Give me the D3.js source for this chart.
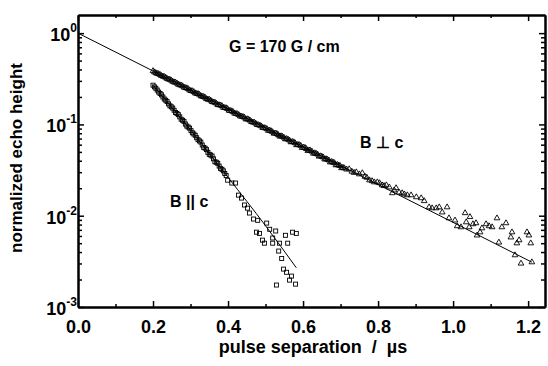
<!DOCTYPE html>
<html>
<head>
<meta charset="utf-8">
<script src="https://cdn.jsdelivr.net/npm/d3@7"></script>
<style>
  body { margin: 0; background: #fff; }
  text { font-family: Arial, "Liberation Sans", sans-serif; font-weight: bold; fill: #000; }
</style>
</head>
<body>
<svg id="chart" width="548" height="366"></svg>
<script>
// x ticks (µs) and y decades
const xMajor = [0, 0.2, 0.4, 0.6, 0.8, 1.0, 1.2];
const xMinor = [0.1, 0.3, 0.5, 0.7, 0.9, 1.1];
const yDecades = [-3, -2, -1, 0];

// B ⊥ c echo heights [pulse separation, height]
const perpPoints = [
  [0.200,0.385],[0.20375,0.374],[0.2075,0.366],[0.21125,0.360],[0.215,0.357],[0.21875,0.350],
  [0.2225,0.341],[0.22625,0.336],[0.230,0.333],[0.23375,0.326],[0.2375,0.317],[0.24125,0.312],
  [0.245,0.310],[0.24875,0.303],[0.2525,0.295],[0.25625,0.290],[0.260,0.288],[0.26375,0.282],
  [0.2675,0.274],[0.27125,0.270],[0.275,0.268],[0.27875,0.263],[0.2825,0.255],[0.28625,0.251],
  [0.290,0.250],[0.29375,0.245],[0.2975,0.237],[0.30125,0.233],[0.305,0.232],[0.30875,0.227],
  [0.3125,0.220],[0.31625,0.217],[0.320,0.216],[0.32375,0.212],[0.3275,0.205],[0.33125,0.202],
  [0.335,0.201],[0.33875,0.197],[0.3425,0.190],[0.34625,0.188],[0.350,0.187],[0.35375,0.183],
  [0.3575,0.177],[0.36125,0.175],[0.365,0.174],[0.36875,0.170],[0.3725,0.164],[0.37625,0.163],
  [0.380,0.162],[0.38375,0.159],[0.3875,0.153],[0.39125,0.152],[0.395,0.151],[0.39875,0.148],
  [0.4025,0.142],[0.40625,0.141],[0.410,0.140],[0.41375,0.137],[0.4175,0.132],[0.42125,0.131],
  [0.425,0.130],[0.42875,0.127],[0.4325,0.123],[0.43625,0.122],[0.440,0.121],[0.44375,0.119],
  [0.4475,0.114],[0.45125,0.1145],[0.455,0.113],[0.45875,0.1105],[0.4625,0.1065],[0.46625,0.1055],
  [0.470,0.1050],[0.47375,0.1025],[0.4775,0.0990],[0.48125,0.0985],[0.485,0.0975],[0.48875,0.0955],
  [0.4925,0.0920],[0.49625,0.0915],[0.500,0.0910],[0.50375,0.0890],[0.5075,0.0855],[0.51125,0.0860],
  [0.515,0.0845],[0.51875,0.0825],[0.5225,0.0795],[0.52625,0.0800],[0.530,0.0790],[0.53375,0.0770],
  [0.5375,0.0740],[0.54125,0.0745],[0.545,0.0735],[0.54875,0.0720],[0.5525,0.0690],[0.55625,0.0695],
  [0.560,0.0685],[0.56375,0.0670],[0.5675,0.0640],[0.57125,0.0645],[0.575,0.0640],[0.57875,0.0625],
  [0.5825,0.0595],[0.58625,0.0600],[0.590,0.0595],[0.59375,0.0585],[0.5975,0.0555],[0.60125,0.0560],
  [0.605,0.0555],[0.60875,0.0540],[0.6125,0.0515],[0.61625,0.0522],[0.620,0.0515],[0.62375,0.0505],
  [0.6275,0.0480],[0.63125,0.0485],[0.635,0.0478],[0.63875,0.0470],[0.6425,0.0446],[0.64625,0.0450],
  [0.650,0.0445],[0.65375,0.0437],[0.6575,0.0415],[0.66125,0.0418],[0.665,0.0412],[0.66875,0.0405],
  [0.6725,0.0385],[0.67625,0.0390],[0.680,0.0384],[0.68375,0.0378],[0.6875,0.0358],[0.69125,0.0362],
  [0.695,0.0357],[0.69875,0.0352],[0.7025,0.0333],[0.70625,0.0337],[0.710,0.0332],
  [0.716,0.0322],[0.723,0.0324],[0.730,0.0305],[0.736,0.0296],[0.742,0.0300],[0.750,0.0285],
  [0.758,0.0293],[0.765,0.0268],[0.770,0.0262],[0.777,0.0245],[0.784,0.0240],[0.790,0.0233],
  [0.798,0.0233],[0.804,0.0228],[0.811,0.0216],[0.816,0.0212],[0.822,0.0216],[0.830,0.0205],
  [0.838,0.0177],[0.843,0.0190],[0.848,0.0201],[0.856,0.0180],[0.864,0.0177],[0.870,0.0172],
  [0.878,0.0168],[0.888,0.0168],[0.902,0.0160],[0.915,0.0156],[0.923,0.0145],[0.936,0.0124],
  [0.944,0.0121],[0.955,0.0121],[0.963,0.0124],[0.971,0.0109],[0.984,0.0124],[0.989,0.0094],
  [1.005,0.0089],[1.011,0.0077],[1.021,0.0075],[1.032,0.0107],[1.035,0.0085],[1.043,0.0075],
  [1.045,0.0097],[1.053,0.0081],[1.061,0.0083],[1.064,0.0061],[1.072,0.0066],[1.077,0.0073],
  [1.088,0.0081],[1.096,0.0077],[1.104,0.0075],[1.117,0.0094],[1.122,0.0051],[1.130,0.0075],
  [1.141,0.0083],[1.154,0.0058],[1.157,0.0066],[1.165,0.0037],[1.170,0.0050],[1.176,0.0054],
  [1.181,0.0030],[1.197,0.0066],[1.202,0.0061],[1.207,0.0050],[1.210,0.0031]
];

// B || c echo heights
const paraPoints = [
  [0.200,0.269],[0.20375,0.258],[0.2075,0.249],[0.21125,0.238],[0.215,0.226],[0.21875,0.218],
  [0.2225,0.211],[0.22625,0.200],[0.230,0.190],[0.23375,0.184],[0.2375,0.178],[0.24125,0.168],
  [0.245,0.160],[0.24875,0.156],[0.2525,0.151],[0.25625,0.143],[0.260,0.135],[0.26375,0.132],
  [0.2675,0.128],[0.27125,0.121],[0.275,0.114],[0.27875,0.111],[0.2825,0.108],[0.28625,0.101],
  [0.290,0.096],[0.29375,0.0935],[0.2975,0.091],[0.30125,0.0855],[0.305,0.081],[0.30875,0.0785],
  [0.3125,0.076],[0.31625,0.0715],[0.320,0.068],[0.32375,0.066],[0.3275,0.064],[0.33125,0.0595],
  [0.335,0.056],[0.33875,0.055],[0.3425,0.053],[0.34625,0.0495],[0.350,0.047],[0.35375,0.0462],
  [0.3575,0.045],[0.36125,0.042],[0.365,0.039],[0.36875,0.0385],[0.3725,0.0375],[0.37625,0.035],
  [0.380,0.033],[0.38375,0.0322],[0.3875,0.031],[0.39125,0.029],[0.395,0.0275],
  [0.399,0.0245],[0.410,0.0228],[0.420,0.0228],[0.428,0.0168],[0.436,0.0156],[0.444,0.0131],
  [0.452,0.0121],[0.457,0.0107],[0.468,0.0092],[0.479,0.0089],[0.476,0.0066],[0.484,0.0064],
  [0.492,0.0054],[0.497,0.0050],[0.503,0.0083],[0.511,0.0071],[0.519,0.0057],[0.519,0.0050],
  [0.527,0.0068],[0.529,0.00174],[0.535,0.0041],[0.537,0.0050],[0.543,0.0034],[0.548,0.0026],
  [0.553,0.0061],[0.556,0.0024],[0.559,0.0050],[0.564,0.00197],[0.569,0.00218],[0.572,0.0066],
  [0.580,0.00178],[0.582,0.0064]
];

// fitted curves
const perpFit = [[0, 1.0], [1.21, 0.0031]];
const paraFit = [[0.2, 0.269], [0.3, 0.087], [0.4, 0.0263], [0.5, 0.00776], [0.582, 0.00269]];

const width = 548, height = 366;
const margin = { left: 78, right: 3, top: 15, bottom: 59 };

const svg = d3.select("#chart");

const x = d3.scaleLinear()
    .domain([0, 1.245])
    .range([margin.left, width - margin.right]);

const y = d3.scaleLog()
    .domain([1e-3, 1.58])
    .range([height - margin.bottom, margin.top]);

const yMajor = yDecades.map(k => Math.pow(10, k));
const yMinor = [];
yDecades.slice(0, -1).forEach(k => {
    for (let m = 2; m <= 9; m++) yMinor.push(m * Math.pow(10, k));
});

// axes, ticks pointing inward
function styleAxis(g) {
    g.select(".domain").attr("stroke-width", 2);
    g.selectAll(".tick line").attr("stroke-width", 1.5);
}

svg.append("g")
    .attr("transform", `translate(0,${height - margin.bottom})`)
    .call(d3.axisBottom(x).tickValues(xMajor).tickSize(-6).tickSizeOuter(0)
        .tickPadding(13).tickFormat(d3.format(".1f")))
    .call(styleAxis)
    .call(g => g.selectAll("text").style("font-size", "18px"));

svg.append("g")
    .attr("transform", `translate(0,${height - margin.bottom})`)
    .call(d3.axisBottom(x).tickValues(xMinor).tickSize(-3).tickSizeOuter(0).tickFormat(""))
    .call(styleAxis);

svg.append("g")
    .attr("transform", `translate(0,${margin.top})`)
    .call(d3.axisTop(x).tickValues(xMajor).tickSize(-6).tickSizeOuter(0).tickFormat(""))
    .call(styleAxis);

svg.append("g")
    .attr("transform", `translate(0,${margin.top})`)
    .call(d3.axisTop(x).tickValues(xMinor).tickSize(-3).tickSizeOuter(0).tickFormat(""))
    .call(styleAxis);

svg.append("g")
    .attr("transform", `translate(${margin.left},0)`)
    .call(d3.axisLeft(y).tickValues(yMajor).tickSize(-6).tickSizeOuter(0).tickFormat(""))
    .call(styleAxis);

svg.append("g")
    .attr("transform", `translate(${margin.left},0)`)
    .call(d3.axisLeft(y).tickValues(yMinor).tickSize(-4).tickSizeOuter(0).tickFormat(""))
    .call(styleAxis);

svg.append("g")
    .attr("transform", `translate(${width - margin.right},0)`)
    .call(d3.axisRight(y).tickValues(yMajor).tickSize(-6).tickSizeOuter(0).tickFormat(""))
    .call(styleAxis);

svg.append("g")
    .attr("transform", `translate(${width - margin.right},0)`)
    .call(d3.axisRight(y).tickValues(yMinor).tickSize(-4).tickSizeOuter(0).tickFormat(""))
    .call(styleAxis);

// y tick labels 10^k
const yLab = svg.append("g").selectAll("text")
    .data(yDecades)
    .enter()
    .append("text")
    .attr("x", margin.left - 1)
    .attr("y", d => y(Math.pow(10, d)) + 8)
    .attr("text-anchor", "end")
    .style("font-size", "18px");
yLab.append("tspan").text("10");
yLab.append("tspan").attr("dy", -9).style("font-size", "12px").text(d => d);

// axis titles
svg.append("text")
    .attr("x", 313)
    .attr("y", 353)
    .attr("text-anchor", "middle")
    .style("font-size", "18px")
    .attr("xml:space", "preserve")
    .text("pulse separation  /  \u00b5s");

svg.append("text")
    .attr("transform", "translate(22,158) rotate(-90)")
    .attr("text-anchor", "middle")
    .style("font-size", "17px")
    .text("normalized echo height");

// fit curves
const line = d3.line()
    .x(d => x(d[0]))
    .y(d => y(d[1]));

svg.append("path")
    .datum(perpFit)
    .attr("fill", "none")
    .attr("stroke", "#000")
    .attr("stroke-width", 1)
    .attr("d", line);

svg.append("path")
    .datum(paraFit)
    .attr("fill", "none")
    .attr("stroke", "#000")
    .attr("stroke-width", 1)
    .attr("d", line.curve(d3.curveMonotoneX));

// data markers
svg.append("g")
    .selectAll("path")
    .data(perpPoints)
    .enter()
    .append("path")
    .attr("transform", d => `translate(${x(d[0])},${y(d[1])})`)
    .attr("d", d3.symbol(d3.symbolTriangle, 14))
    .attr("fill", "none")
    .attr("stroke", "#000")
    .attr("stroke-width", 0.9);

svg.append("g")
    .selectAll("rect")
    .data(paraPoints)
    .enter()
    .append("rect")
    .attr("x", d => x(d[0]) - 2)
    .attr("y", d => y(d[1]) - 2)
    .attr("width", 4)
    .attr("height", 4)
    .attr("fill", "none")
    .attr("stroke", "#000")
    .attr("stroke-width", 0.9);

// annotations
svg.append("text")
    .attr("x", 229)
    .attr("y", 52)
    .style("font-size", "16px")
    .text("G = 170 G / cm");

svg.append("text")
    .attr("x", 360)
    .attr("y", 148)
    .style("font-size", "16px")
    .attr("xml:space", "preserve")
    .text("B \u22a5 c");

svg.append("text")
    .attr("x", 170)
    .attr("y", 207)
    .style("font-size", "16px")
    .attr("xml:space", "preserve")
    .text("B || c");
</script>
</body>
</html>
